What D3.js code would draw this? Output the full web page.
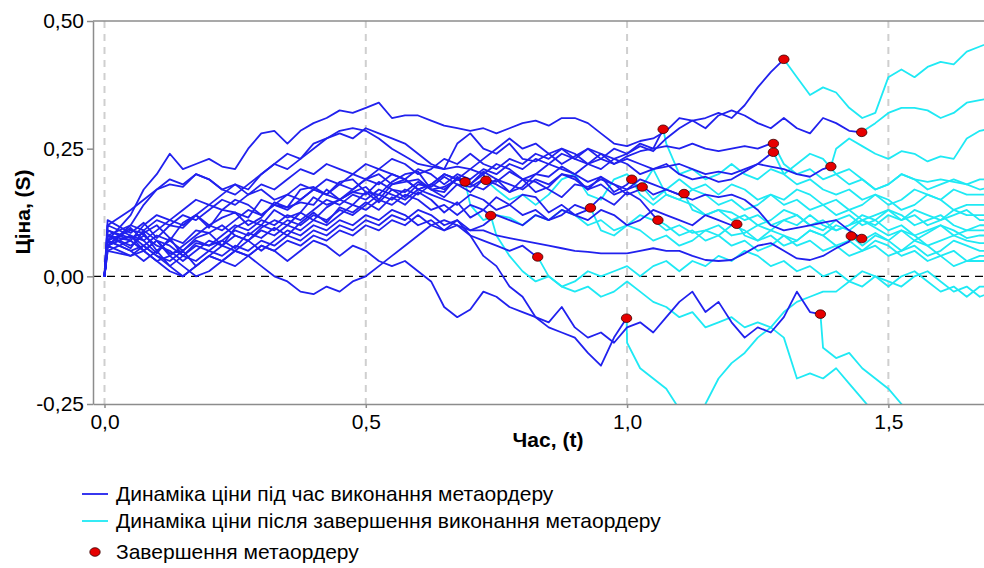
<!DOCTYPE html>
<html>
<head>
<meta charset="utf-8">
<script src="https://d3js.org/d3.v7.min.js"></script>
<style>
  body { margin: 0; background: #fff; }
  svg { display: block; font-family: "Liberation Sans", Arial, sans-serif; }
  .axis path, .axis line { stroke: #8c8c8c; stroke-width: 1.5; }
  .axis text { font-size: 21px; fill: #000; }
</style>
</head>
<body>
<script>
// time grid step of the sampled price paths; the first sample sits right after the opening jump
const timeStep = 0.025;
const impactTime = 0.006;

// completion of each metaorder (time, price)
const endTimes  = [0.690, 0.730, 0.739, 0.829, 0.930, 1.009, 1.029, 1.059, 1.069, 0.999,
                   1.300, 1.449, 1.280, 1.280, 1.390, 1.109, 1.210, 1.429, 1.449, 1.370];
const endPrices = [0.185, 0.188, 0.119, 0.038, 0.134, 0.190, 0.175, 0.110, 0.288, -0.082,
                   0.425, 0.282, 0.260, 0.243, 0.215, 0.162, 0.102, 0.079, 0.074, -0.074];

// price paths sampled every timeStep, t = 0 .. 1.7
const pathValues = [
  [0,.09,.075,.085,.05,.07,.105,.12,.095,.13,.125,.115,.15,.14,.135,.17,.175,.16,.185,.19,.165,.16,.185,.2,.205,.17,.175,.19,
   .14,.11,.12,.115,.1,.12,.11,.13,.12,.1,.11,.09,.1,.12,.11,.09,.1,.085,.09,.1,.08,.085,.1,.09,.11,.1,.12,.1,.09,.1,.11,.095,.08,.09,.07,.085,.1,.09,.075,.08,.08],
  [0,.06,.08,.05,.07,.04,.06,.08,.1,.09,.11,.13,.12,.14,.16,.15,.17,.16,.18,.17,.19,.2,.18,.19,.17,.18,.2,.19,.18,.2,
   .17,.15,.16,.14,.16,.19,.2,.16,.15,.19,.2,.17,.21,.16,.15,.14,.12,.13,.125,.11,.12,.1,.11,.12,.1,.09,.11,.12,.1,.11,.13,.12,.1,.11,.12,.1,.09,.1,.1],
  [0,.07,.05,.06,.04,.03,.05,.02,.04,.06,.05,.07,.09,.08,.1,.09,.11,.1,.12,.14,.13,.15,.14,.16,.15,.13,.14,.12,.14,.13,
   .08,.04,.01,-.01,0,-.02,-.01,.01,0,.01,.02,0,.02,.03,.01,.03,.02,.04,.03,.05,.04,.02,.03,.01,.02,0,.01,-.01,.01,0,-.02,0,.01,-.01,-.03,-.02,-.04,-.02,-.02],
  [0,.05,.07,.05,.03,.04,.02,0,.01,.03,.02,.04,.06,.05,.07,.06,.08,.07,.09,.08,.1,.09,.11,.1,.12,.1,.09,.11,.08,.07,.06,.05,.06,.04,
   0,-.02,-.03,-.02,-.04,-.03,-.01,-.03,-.05,-.06,-.08,-.07,-.1,-.09,-.08,-.1,-.09,-.1,-.12,-.2,-.19,-.2,-.18,-.21,-.24,-.27,-.3,-.33,-.35,-.38,-.4,-.42,-.44,-.46,-.48],
  [0,.1,.08,.06,.08,.07,.05,.07,.06,.08,.1,.09,.11,.1,.12,.11,.13,.15,.14,.16,.15,.17,.16,.15,.17,.16,.15,.14,.16,.15,.13,.14,.12,.13,.11,.12,.14,.13,
   .09,.08,.1,.09,.07,.08,.06,.07,.09,.08,.06,.07,.05,.06,.08,.07,.09,.08,.1,.09,.11,.1,.12,.11,.13,.12,.11,.12,.13,.11,.11],
  [0,.08,.055,.09,.07,.045,.05,.075,.085,.06,.095,.11,.1,.13,.115,.125,.155,.14,.15,.165,.175,.15,.18,.185,.19,.17,.165,.195,.18,.205,.19,.165,.175,.2,.195,.215,.2,.185,.195,.165,.18,
   .16,.14,.16,.15,.17,.16,.14,.15,.13,.14,.16,.15,.17,.16,.14,.15,.13,.14,.16,.15,.13,.14,.16,.15,.13,.14,.14,.14],
  [0,.11,.085,.105,.075,.1,.095,.12,.1,.115,.125,.1,.115,.145,.135,.145,.14,.17,.15,.165,.16,.185,.17,.155,.18,.175,.195,.18,.165,.19,.185,.205,.19,.165,.175,.2,.195,.17,.195,.18,.16,.17,
   .15,.17,.19,.17,.18,.16,.18,.17,.15,.16,.14,.15,.13,.14,.12,.13,.11,.12,.13,.11,.12,.1,.11,.13,.12,.12,.12],
  [0,.06,.095,.07,.045,.075,.04,.065,.06,.07,.055,.085,.075,.095,.08,.105,.125,.105,.135,.125,.145,.13,.155,.14,.165,.15,.125,.145,.115,.13,.155,.14,.16,.155,.125,.14,.12,.13,.155,.14,.165,.15,.12,
   .1,.08,.09,.07,.08,.1,.09,.07,.08,.06,.07,.09,.08,.06,.07,.05,.06,.04,.05,.07,.06,.04,.05,.03,.04,.04],
  [0,.08,.07,.1,.12,.11,.13,.15,.14,.16,.18,.17,.2,.22,.24,.23,.26,.27,.285,.29,.285,.27,.25,.235,.22,.215,.21,.26,.28,.25,.24,.26,.23,.225,.24,.22,.235,.25,.23,.22,.235,.245,.25,
   .26,.2,.21,.19,.2,.22,.2,.19,.21,.2,.22,.24,.23,.2,.21,.19,.17,.18,.2,.19,.185,.19,.185,.18,.19,.19],
  [0,.07,.05,.03,.05,.02,0,.02,.04,.03,.05,.04,.06,.05,.03,.05,.07,.06,.04,.06,.05,.03,.02,.03,.01,-.01,-.06,-.08,-.065,-.03,-.04,-.06,-.07,-.08,-.1,-.11,-.12,-.15,-.175,-.12,
   -.13,-.18,-.2,-.22,-.26,-.28,-.25,-.2,-.17,-.15,-.12,-.1,-.07,-.05,-.04,-.03,-.03,-.01,-.02,0,-.01,-.02,0,.01,-.01,-.03,-.02,-.04,-.03],
  [0,.06,.1,.14,.17,.18,.175,.2,.19,.17,.16,.18,.2,.22,.21,.23,.25,.27,.28,.27,.29,.28,.27,.26,.24,.22,.21,.215,.21,.23,.25,.27,.25,.26,.24,.25,.23,.22,.24,.23,.24,.255,.245,.27,.29,.305,.31,.32,.31,.335,.37,.4,.42,
   .39,.355,.37,.36,.33,.31,.32,.39,.405,.39,.41,.42,.415,.44,.45,.46],
  [0,.07,.12,.17,.2,.24,.21,.22,.23,.215,.21,.25,.28,.285,.26,.285,.3,.31,.325,.32,.33,.34,.31,.315,.315,.305,.295,.29,.285,.29,.28,.29,.3,.305,.295,.31,.31,.3,.28,.26,.255,.265,.27,.285,.31,.305,.29,.315,.325,.315,.3,.29,.31,.29,.28,.31,.3,.285,
   .283,.3,.32,.33,.33,.325,.31,.32,.34,.345,.35],
  [0,.08,.1,.09,.11,.1,.12,.11,.13,.15,.14,.16,.18,.17,.19,.21,.2,.22,.21,.2,.22,.21,.23,.22,.2,.21,.23,.22,.24,.22,.21,.23,.22,.24,.23,.25,.24,.22,.23,.25,.24,.26,.25,.255,.25,.26,.25,.245,.25,.255,.25,.26,
   .22,.2,.21,.19,.2,.18,.19,.17,.18,.2,.19,.17,.18,.19,.18,.17,.175],
  [0,.1,.13,.15,.17,.19,.18,.2,.19,.17,.18,.16,.17,.15,.16,.18,.17,.19,.18,.2,.19,.21,.2,.19,.21,.2,.18,.2,.19,.21,.2,.22,.21,.23,.22,.24,.23,.25,.24,.22,.23,.22,.21,.22,.2,.19,.195,.185,.19,.205,.22,.24,
   .2,.18,.19,.17,.16,.17,.15,.16,.14,.15,.17,.16,.15,.17,.16,.16,.16],
  [0,.06,.08,.07,.09,.11,.1,.12,.14,.13,.15,.14,.12,.14,.13,.15,.17,.16,.15,.17,.19,.18,.2,.19,.17,.18,.2,.19,.21,.2,.22,.21,.19,.2,.22,.21,.2,.22,.21,.23,.22,.2,.21,.215,.22,.21,.2,.205,.2,.21,.22,.215,.21,.2,.195,.21,
   .25,.27,.255,.24,.23,.245,.24,.225,.235,.23,.27,.285,.29],
  [0,.07,.09,.085,.1,.075,.065,.09,.085,.1,.08,.07,.095,.11,.1,.125,.11,.135,.15,.14,.165,.145,.17,.165,.185,.17,.155,.18,.175,.19,.18,.165,.19,.185,.17,.155,.18,.175,.19,.18,.17,.19,.18,.17,.16,
   .13,.12,.13,.11,.12,.1,.11,.13,.12,.1,.11,.09,.1,.12,.11,.09,.1,.08,.09,.1,.08,.09,.09,.09],
  [0,.05,.04,.06,.04,.02,.04,.03,.05,.04,.06,.05,.07,.06,.08,.07,.09,.08,.1,.09,.11,.1,.12,.11,.13,.12,.1,.11,.09,.1,.12,.11,.1,.12,.11,.13,.12,.11,.13,.12,.1,.11,.13,.12,.11,.1,.12,.11,.1,
   .08,.07,.09,.08,.06,.07,.05,.06,.04,.05,.07,.06,.04,.05,.03,.04,.02,.03,.03,.03],
  [0,.06,.04,.05,.03,.01,0,.02,.04,.03,.05,.04,.02,0,-.01,-.03,-.035,-.02,-.03,-.01,0,.02,.04,.06,.08,.1,.11,.1,.09,.09,.08,.075,.07,.065,.06,.055,.05,.048,.045,.045,.045,.05,.055,.05,.05,.04,.032,.03,.032,.045,.06,.065,.05,.035,.032,.04,.055,.068,
   .06,.08,.07,.05,.06,.04,.05,.07,.06,.05,.05],
  [0,.09,.07,.05,.07,.06,.04,.06,.05,.07,.09,.08,.1,.09,.11,.1,.12,.11,.13,.12,.14,.16,.15,.17,.16,.18,.17,.19,.18,.17,.19,.18,.17,.19,.18,.2,.19,.17,.18,.16,.17,.18,.16,.17,.16,.15,.16,.155,.16,.15,.13,.1,.09,.095,.1,.105,.11,.09,
   .07,.085,.07,.09,.08,.06,.07,.08,.07,.065,.065],
  [0,.08,.06,.08,.06,.05,.03,.05,.07,.06,.08,.07,.05,.07,.09,.08,.1,.09,.11,.1,.12,.11,.13,.12,.1,.11,.09,.1,.08,.04,.02,-.02,-.04,-.08,-.09,-.06,-.1,-.12,-.11,-.13,-.1,-.09,-.11,-.08,-.05,-.03,-.07,-.05,-.09,-.12,-.1,-.11,-.08,-.03,-.07,
   -.14,-.16,-.15,-.18,-.2,-.22,-.25,-.28,-.3,-.32,-.34,-.36,-.38,-.4]
];

const xTicks = [0, 0.5, 1.0, 1.5];
const yTicks = [-0.25, 0, 0.25, 0.5];
const legendLabels = [
  "Динаміка ціни під час виконання метаордеру",
  "Динаміка ціни після завершення виконання метаордеру",
  "Завершення метаордеру"
];

const blue = "#2121ee", cyan = "#1fe9f4", red = "#e60000";
const W = 984, H = 568;
const plot = {left: 93, right: 984, top: 21, bottom: 404};

const svg = d3.select("body").append("svg").attr("width", W).attr("height", H);

const x = d3.scaleLinear().domain([-0.022, 1.683]).range([plot.left, plot.right]);
const y = d3.scaleLinear().domain([-0.25, 0.5]).range([plot.bottom, plot.top]);
const comma = f => v => d3.format(f)(v).replace(".", ",").replace("\u2212", "-");

svg.append("defs").append("clipPath").attr("id", "clip")
  .append("rect").attr("x", plot.left).attr("y", plot.top)
  .attr("width", plot.right - plot.left).attr("height", plot.bottom - plot.top);

// vertical dashed gridlines
svg.append("g").selectAll("line").data(xTicks).join("line")
  .attr("x1", d => x(d)).attr("x2", d => x(d))
  .attr("y1", plot.top).attr("y2", plot.bottom)
  .attr("stroke", "#cfcfcf").attr("stroke-width", 2).attr("stroke-dasharray", "7,6");

// top frame line
svg.append("line").attr("x1", plot.left).attr("x2", plot.right)
  .attr("y1", plot.top).attr("y2", plot.top)
  .attr("stroke", "#8c8c8c").attr("stroke-width", 1.5);

// zero line
svg.append("line").attr("x1", plot.left).attr("x2", plot.right)
  .attr("y1", y(0)).attr("y2", y(0))
  .attr("stroke", "#000").attr("stroke-width", 1.4).attr("stroke-dasharray", "8,6");

// price paths: blue until completion, cyan after
const line = d3.line().x(d => x(d[0])).y(d => y(d[1]));
const gPaths = svg.append("g").attr("clip-path", "url(#clip)");
pathValues.forEach((vals, i) => {
  const T = endTimes[i], P = endPrices[i];
  const pts = vals.map((v, k) => [k === 1 ? impactTime : k * timeStep, v]);
  const before = pts.filter(p => p[0] < T - 1e-9).concat([[T, P]]);
  const after = [[T, P]].concat(pts.filter(p => p[0] > T + 1e-9));
  gPaths.append("path").attr("d", line(before))
    .attr("fill", "none").attr("stroke", blue).attr("stroke-width", 1.8).attr("stroke-linejoin", "round");
  gPaths.append("path").attr("d", line(after))
    .attr("fill", "none").attr("stroke", cyan).attr("stroke-width", 1.8).attr("stroke-linejoin", "round");
});

// completion markers
svg.append("g").selectAll("ellipse").data(endTimes).join("ellipse")
  .attr("cx", d => x(d)).attr("cy", (d, i) => y(endPrices[i]))
  .attr("rx", 5.2).attr("ry", 4.3)
  .attr("fill", red).attr("stroke", "#3a0000").attr("stroke-width", 0.8);

// axes
svg.append("g").attr("class", "axis").attr("transform", `translate(${plot.left},0)`)
  .call(d3.axisLeft(y).tickValues(yTicks).tickFormat(comma(".2f")).tickSize(6).tickSizeOuter(0).tickPadding(3));
svg.append("g").attr("class", "axis").attr("transform", `translate(0,${plot.bottom})`)
  .call(d3.axisBottom(x).tickValues(xTicks).tickFormat(comma(".1f")).tickSize(4).tickSizeOuter(0).tickPadding(6));

// axis titles
svg.append("text").attr("x", 548).attr("y", 447).attr("text-anchor", "middle")
  .style("font-size", "21px").style("font-weight", "bold").text("Час, (t)");
svg.append("text").attr("transform", "translate(30,212) rotate(-90)").attr("text-anchor", "middle")
  .style("font-size", "21px").style("font-weight", "bold").text("Ціна, (S)");

// legend
const lg = svg.append("g").style("font-size", "21px");
[blue, cyan].forEach((c, i) => {
  lg.append("line").attr("x1", 82).attr("x2", 108).attr("y1", 494 + i * 27).attr("y2", 494 + i * 27)
    .attr("stroke", c).attr("stroke-width", 1.8);
  lg.append("text").attr("x", 116).attr("y", 501 + i * 27).text(legendLabels[i]);
});
lg.append("ellipse").attr("cx", 95).attr("cy", 552).attr("rx", 5.2).attr("ry", 4.3)
  .attr("fill", red).attr("stroke", "#3a0000").attr("stroke-width", 0.8);
lg.append("text").attr("x", 116).attr("y", 559).text(legendLabels[2]);
</script>
</body>
</html>
